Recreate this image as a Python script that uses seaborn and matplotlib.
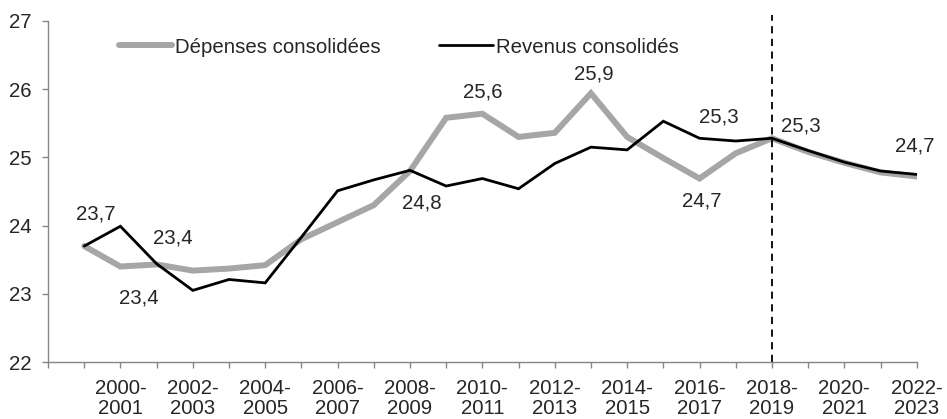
import numpy as np
import pandas as pd
import seaborn as sns
import matplotlib.pyplot as plt

# values (% of GDP)
periods = ['1999-2000', '2000-2001', '2001-2002', '2002-2003', '2003-2004', '2004-2005',
           '2005-2006', '2006-2007', '2007-2008', '2008-2009', '2009-2010', '2010-2011',
           '2011-2012', '2012-2013', '2013-2014', '2014-2015', '2015-2016', '2016-2017',
           '2017-2018', '2018-2019', '2019-2020', '2020-2021', '2021-2022', '2022-2023']
depenses = [23.70, 23.40, 23.43, 23.34, 23.37, 23.42, 23.80, 24.05, 24.30, 24.80, 25.58, 25.64,
            25.30, 25.36, 25.94, 25.30, 24.99, 24.69, 25.06, 25.28, 25.08, 24.92, 24.78, 24.72]
revenus = [23.70, 23.99, 23.44, 23.05, 23.21, 23.16, 23.83, 24.51, 24.67, 24.81, 24.58, 24.69,
           24.54, 24.91, 25.15, 25.11, 25.53, 25.28, 25.24, 25.28, 25.10, 24.93, 24.80, 24.75]

# data labels: (series, period index, text, dx px, dy px)
labels = [('dep', 0, '23,7', 12, 32), ('dep', 1, '23,4', 18, -31), ('dep', 2, '23,4', 16, 26),
          ('dep', 9, '24,8', 12, -32), ('dep', 11, '25,6', 0, 22), ('dep', 14, '25,9', 3, 19),
          ('rev', 17, '25,3', 19, 21), ('dep', 17, '24,7', 2, -22), ('rev', 19, '25,3', 29, 12),
          ('rev', 23, '24,7', -2, 28)]
projection_start = '2018-2019'

df = pd.DataFrame({'periode': periods, 'pos': np.arange(len(periods)),
                   'dep': depenses, 'rev': revenus})

sns.set_style('ticks')
plt.rcParams['font.family'] = ['Liberation Sans', 'DejaVu Sans']
fs = 14.7

fig = plt.figure(figsize=(9.47, 4.19), dpi=100)
ax = fig.add_axes([0.0507, 0.136, 0.968 - 0.0507, 0.814])

sns.lineplot(data=df, x='pos', y='dep', ax=ax, color='#A6A6A6', linewidth=4.3,
             label='Dépenses consolidées', solid_capstyle='round', solid_joinstyle='miter')
sns.lineplot(data=df, x='pos', y='rev', ax=ax, color='black', linewidth=2,
             label='Revenus consolidés', solid_joinstyle='miter')

xv = periods.index(projection_start)
ax.plot([xv, xv], [22, 27.09], color='black', linewidth=1.3, linestyle=(0, (4, 3)),
        clip_on=False)

for s, i, txt, dx, dy in labels:
    ax.annotate(txt, xy=(i, df[s][i]), xytext=(dx, dy), textcoords='offset pixels',
                ha='center', va='center', fontsize=fs)

ax.set_xlim(-1, len(periods) - 1)
ax.set_ylim(22, 27)
ax.set_yticks(range(22, 28))
ax.set_yticklabels([str(v) for v in range(22, 28)])
ax.set_xticks(range(-1, len(periods)))
ax.set_xticklabels([''] + [p.replace('-', '-\n') if k % 2 == 1 else ''
                           for k, p in enumerate(periods)])
ax.tick_params(axis='both', labelsize=fs, color='#868686', length=4, width=1)
ax.tick_params(axis='y', pad=8)
ax.tick_params(axis='x', pad=8)
for t in ax.get_xticklabels():
    t.set_linespacing(1.1)
for sp in ['top', 'right']:
    ax.spines[sp].set_visible(False)
for sp in ['left', 'bottom']:
    ax.spines[sp].set_color('#868686')
    ax.spines[sp].set_linewidth(1)
ax.set_xlabel('')
ax.set_ylabel('')

ax.legend(loc='upper left', bbox_to_anchor=(0.06, 1.005), ncol=2, frameon=False,
          fontsize=fs, handlelength=2.6, handletextpad=0.15, columnspacing=2.9)

fig.savefig('out.png', dpi=100)
